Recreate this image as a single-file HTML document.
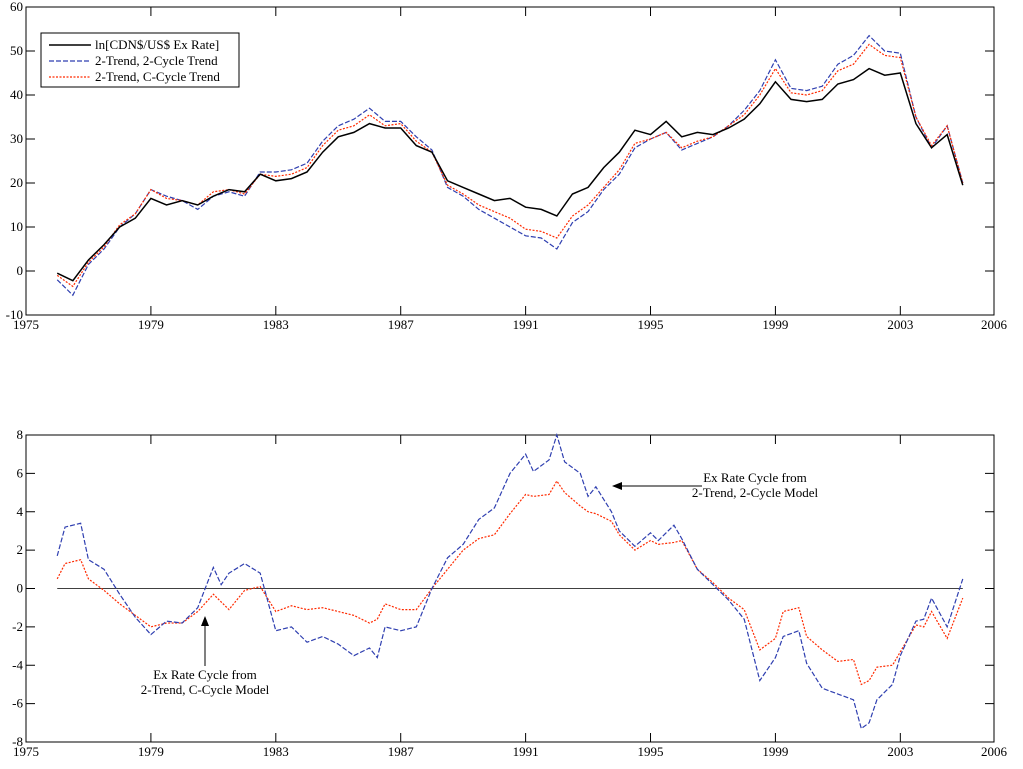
<!DOCTYPE html>
<html><head><meta charset="utf-8"><style>
body{margin:0;background:#fff;}
svg{display:block;font-family:"Liberation Serif",serif;font-size:13px;}
</style></head><body>
<svg id="c" width="1023" height="769"></svg>
<script>
const topYears=[1976,1976.5,1977,1977.5,1978,1978.5,1979,1979.5,1980,1980.5,1981,1981.5,1982,1982.5,1983,1983.5,1984,1984.5,1985,1985.5,1986,1986.5,1987,1987.5,1988,1988.5,1989,1989.5,1990,1990.5,1991,1991.5,1992,1992.5,1993,1993.5,1994,1994.5,1995,1995.5,1996,1996.5,1997,1997.5,1998,1998.5,1999,1999.5,2000,2000.5,2001,2001.5,2002,2002.5,2003,2003.5,2004,2004.5,2005];
const exRate=[-0.5,-2.2,2.5,6,10,12,16.5,15,16,15,17,18.5,18,22,20.5,21,22.5,27,30.5,31.5,33.5,32.5,32.5,28.5,27,20.5,19,17.5,16,16.5,14.5,14,12.5,17.5,19,23.5,27,32,31,34,30.5,31.5,31,32.5,34.5,38,43,39,38.5,39,42.5,43.5,46,44.5,45,33.5,28,31,19.5];
const trend2c=[-2,-5.5,1.5,5,10,13,18.5,17,16,14,17,18,17,22.5,22.5,23,24.5,29.5,33,34.5,37,34,34,30.5,27.5,19,17,14,12,10,8,7.5,5,11,13.5,18.5,22,28,30,31.5,27.5,29,30.5,33,36.5,41,48,41.5,41,42,47,49,53.5,50,49.5,35,28,33,20];
const trendCc=[-1,-3.5,2,5.5,10.5,13,18.5,16.5,16,15,18,18.5,17.5,22,21.5,22,23.5,28.5,32,33,35.5,33,33.5,29.5,27,19.5,17.5,15,13.5,12,9.5,9,7.5,12.5,15,19,23,29,30,31.5,28,29.5,30.5,33,35.5,40,46,40.5,40,41,45.5,47,51.5,49,48.5,35,28.5,33,20];
const cycYears=[1976,1976.25,1976.75,1977,1977.5,1978,1978.5,1979,1979.5,1980,1980.5,1981,1981.25,1981.5,1982,1982.5,1983,1983.5,1984,1984.5,1985,1985.5,1986,1986.25,1986.5,1987,1987.5,1988,1988.5,1989,1989.5,1990,1990.5,1991,1991.25,1991.75,1992,1992.25,1992.75,1993,1993.25,1993.75,1994,1994.5,1995,1995.25,1995.75,1996,1996.5,1997,1997.5,1998,1998.5,1999,1999.25,1999.75,2000,2000.5,2001,2001.5,2001.75,2002,2002.25,2002.75,2003,2003.5,2003.75,2004,2004.5,2005];
const cycle2c=[1.7,3.2,3.4,1.5,1,-0.3,-1.5,-2.4,-1.7,-1.8,-1,1.1,0.2,0.8,1.3,0.8,-2.2,-2,-2.8,-2.5,-2.9,-3.5,-3.1,-3.6,-2,-2.2,-2,0,1.6,2.3,3.6,4.2,6,7,6.1,6.7,8,6.6,6,4.8,5.3,4,3,2.2,2.9,2.5,3.3,2.6,1,0.2,-0.6,-1.6,-4.8,-3.6,-2.5,-2.2,-3.9,-5.2,-5.5,-5.8,-7.3,-7,-5.8,-5,-3.5,-1.7,-1.6,-0.5,-2,0.5];
const cycleCc=[0.5,1.3,1.5,0.5,-0.1,-0.8,-1.4,-2,-1.8,-1.8,-1.2,-0.3,-0.7,-1.1,-0.1,0.1,-1.2,-0.9,-1.1,-1,-1.2,-1.4,-1.8,-1.6,-0.8,-1.1,-1.1,0,1,2,2.6,2.8,3.9,4.9,4.8,4.9,5.6,5,4.3,4,3.9,3.5,2.8,2,2.5,2.3,2.4,2.5,1,0.3,-0.5,-1.1,-3.2,-2.6,-1.2,-1,-2.5,-3.2,-3.8,-3.7,-5,-4.8,-4.1,-4,-3.3,-1.9,-2,-1.2,-2.6,-0.5];
const xTicks=[1975,1979,1983,1987,1991,1995,1999,2003,2006];
const topTicks=[-10,0,10,20,30,40,50,60];
const botTicks=[-8,-6,-4,-2,0,2,4,6,8];

const NS="http://www.w3.org/2000/svg";
const svg=document.getElementById('c');
function el(t,a,p){const e=document.createElementNS(NS,t);for(const k in a)e.setAttribute(k,a[k]);(p||svg).appendChild(e);return e;}
const X0=26,X1=994;
const xs=y=>X0+(y-1975)*(X1-X0)/31;
function panel(name,top,bot,ymin,ymax,yt){
  const g=el('g',{});
  
  
  const ys=v=>bot-(v-ymin)*(bot-top)/(ymax-ymin);
  el('rect',{x:X0,y:top,width:X1-X0,height:bot-top,fill:'none',stroke:'#000','stroke-width':1},g);
  xTicks.forEach(t=>{const x=xs(t);
    el('line',{x1:x,x2:x,y1:bot,y2:bot-9,stroke:'#000'},g);
    el('line',{x1:x,x2:x,y1:top,y2:top+9,stroke:'#000'},g);
    const tx=el('text',{x:x,y:bot+14,'text-anchor':'middle'},g);tx.textContent=t;
    
    });
  yt.forEach(t=>{const y=ys(t);
    el('line',{x1:X0,x2:X0+9,y1:y,y2:y,stroke:'#000'},g);
    el('line',{x1:X1,x2:X1-9,y1:y,y2:y,stroke:'#000'},g);
    const tx=el('text',{x:X0-3,y:y+4,'text-anchor':'end'},g);tx.textContent=t;
    
    });
  return {g,ys};
}
function line(g,ys,xv,yv,st,name){
  const p=el('polyline',Object.assign({points:xv.map((x,i)=>xs(x)+','+ys(yv[i])).join(' '),fill:'none'},st),g);
  
  
}
const BLUE={stroke:'#2f3fb0','stroke-width':1.2,'stroke-dasharray':'5,2'};
const RED={stroke:'#ff2a00','stroke-width':1.2,'stroke-dasharray':'2,1.5'};
const BLK={stroke:'#000','stroke-width':1.5};
const A=panel('top-panel',7,315,-10,60,topTicks);
line(A.g,A.ys,topYears,trend2c,BLUE,'series-2-trend-2-cycle-trend');
line(A.g,A.ys,topYears,trendCc,RED,'series-2-trend-c-cycle-trend');
line(A.g,A.ys,topYears,exRate,BLK,'series-ln-exchange-rate');
// legend
const lg=el('g',{},A.g);


el('rect',{x:41,y:33,width:198,height:54,fill:'#fff',stroke:'#000'},lg);
[['ln[CDN$/US$ Ex Rate]',BLK],['2-Trend, 2-Cycle Trend',BLUE],['2-Trend, C-Cycle Trend',RED]].forEach((r,i)=>{
  const y=45+i*16;
  el('line',Object.assign({x1:49,x2:91,y1:y,y2:y},r[1]),lg);
  const t=el('text',{x:95,y:y+4},lg);t.textContent=r[0];
  
  
});
const B=panel('bottom-panel',435,742,-8,8,botTicks);
el('line',{x1:xs(1976),x2:xs(2005),y1:B.ys(0),y2:B.ys(0),stroke:'#000','stroke-width':0.8},B.g);
line(B.g,B.ys,cycYears,cycleCc,RED,'cycle-2-trend-c-cycle');
line(B.g,B.ys,cycYears,cycle2c,BLUE,'cycle-2-trend-2-cycle');
// annotations
el('defs',{}).innerHTML='<marker id="ah" markerWidth="10" markerHeight="8" refX="9" refY="4" orient="auto"><path d="M0,0 L10,4 L0,8 z" fill="#000"/></marker>';
function ann(lines,cx,cy,x1,y1,x2,y2,name){
  const g=el('g',{},B.g);
  
  
  lines.forEach((s,i)=>{const t=el('text',{x:cx,y:cy+i*15,'text-anchor':'middle'},g);t.textContent=s;});
  el('line',{x1:x1,y1:y1,x2:x2,y2:y2,stroke:'#000','marker-end':'url(#ah)'},g);
}
ann(['Ex Rate Cycle from','2-Trend, 2-Cycle Model'],755,482,702,486,613,486,'annotation-2-cycle');
ann(['Ex Rate Cycle from','2-Trend, C-Cycle Model'],205,679,205,666,205,617,'annotation-c-cycle');
</script>
</body></html>
